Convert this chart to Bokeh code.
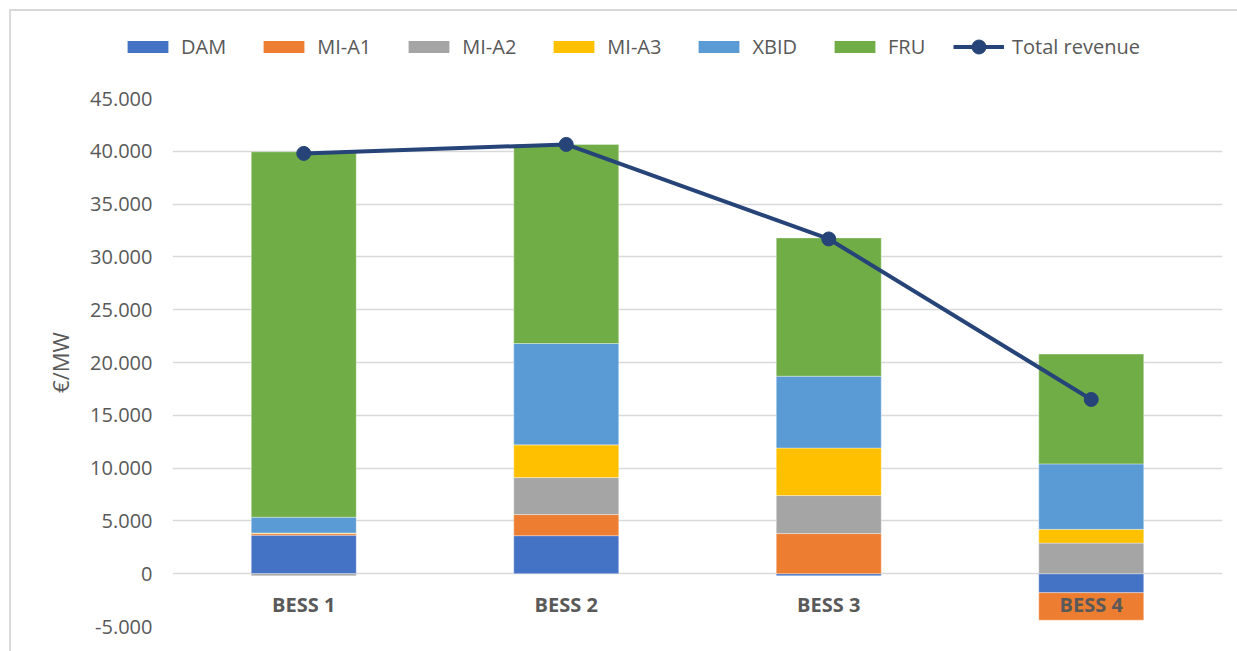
import numpy as np
from bokeh.plotting import figure
from bokeh.layouts import column
from bokeh.models import FixedTicker, CustomJSTickFormatter, ColumnDataSource, Legend, LegendItem
from bokeh.core.properties import value
from bokeh.embed import file_html
from bokeh.resources import INLINE

categories = ["BESS 1", "BESS 2", "BESS 3", "BESS 4"]
series_names = ["DAM", "MI-A1", "MI-A2", "MI-A3", "XBID", "FRU"]
dam = [3650, 3600, -200, -1800]
mi_a1 = [150, 2000, 3800, -2600]
mi_a2 = [-200, 3500, 3600, 2900]
mi_a3 = [50, 3100, 4500, 1300]
xbid = [1500, 9600, 6800, 6200]
fru = [34600, 18850, 13100, 10400]
total_revenue = [39800, 40650, 31700, 16500]
y_ticks = [-5000, 0, 5000, 10000, 15000, 20000, 25000, 30000, 35000, 40000, 45000]

colors = ["#4472C4", "#ED7D31", "#A5A5A5", "#FFC000", "#5B9BD5", "#70AD47"]
series = [dam, mi_a1, mi_a2, mi_a3, xbid, fru]
line_color = "#264478"

FONT = "Open Sans"
TXT = "#595959"
W = 1226


def style_legend(lgd, glyph_h):
    lgd.border_line_color = None
    lgd.background_fill_alpha = 0
    lgd.label_text_font = FONT
    lgd.label_text_font_size = "20px"
    lgd.label_text_color = TXT
    lgd.glyph_width = 51
    lgd.glyph_height = glyph_h
    lgd.label_standoff = 8
    lgd.spacing = 32
    lgd.padding = 0
    lgd.margin = 0


# ---------- legend strip ----------
lg = figure(width=W, height=71, x_range=(0, 1), y_range=(0, 1),
            output_backend="svg", toolbar_location=None,
            min_border_left=0, min_border_right=0, min_border_top=0, min_border_bottom=0)
lg.frame_align = False
lg.axis.visible = False
lg.grid.visible = False
lg.outline_line_color = None
nan = [np.nan]
items = []
for name, col in zip(series_names, colors):
    r = lg.vbar(x=nan, top=nan, width=0.1, fill_color=col, line_color=None)
    items.append(LegendItem(label=name, renderers=[r]))
rl = lg.line(x=nan, y=nan, line_color=line_color, line_width=4)
rs = lg.scatter(x=nan, y=nan, size=14, fill_color=line_color, line_color=line_color)

legend_bars = Legend(items=items, orientation="horizontal", location=(111, 22))
style_legend(legend_bars, 15)
lg.add_layout(legend_bars, "center")

legend_line = Legend(items=[LegendItem(label="Total revenue", renderers=[rl, rs])],
                     orientation="horizontal", location=(942, 18))
style_legend(legend_line, 35)
lg.add_layout(legend_line, "center")

# ---------- main chart ----------
p = figure(x_range=categories, y_range=(-5000, 45000), width=W, height=569,
           output_backend="svg", toolbar_location=None,
           min_border_left=161, min_border_right=15, min_border_top=16, min_border_bottom=25)
p.frame_align = False

pos = np.zeros(len(categories))
neg = np.zeros(len(categories))
for name, vals, col in zip(series_names, series, colors):
    v = np.array(vals, dtype=float)
    bottom = np.where(v >= 0, pos, neg + v)
    top = np.where(v >= 0, pos + v, neg)
    pos = np.where(v >= 0, pos + v, pos)
    neg = np.where(v < 0, neg + v, neg)
    src = ColumnDataSource(dict(x=categories, bottom=bottom, top=top))
    p.vbar(x="x", bottom="bottom", top="top", width=0.4, source=src,
           fill_color=col, line_color="white", line_width=0.6, line_alpha=0.6)

p.line(categories, total_revenue, line_color=line_color, line_width=4)
p.scatter(categories, total_revenue, size=14, fill_color=line_color, line_color=line_color)

p.text(x=categories, y=[0] * len(categories), text=categories, text_align="center",
       text_baseline="middle", y_offset=31, text_font=value(FONT), text_font_style="bold",
       text_font_size="20px", text_color=TXT)

p.xaxis.visible = False
p.xgrid.visible = False
p.ygrid.grid_line_color = "#d9d9d9"
p.ygrid.grid_line_width = 1.3
p.outline_line_color = None

ya = p.yaxis[0]
ya.ticker = FixedTicker(ticks=y_ticks)
ya.formatter = CustomJSTickFormatter(code="""
return Math.round(tick).toString().replace(/\\B(?=(\\d{3})+(?!\\d))/g, ".");
""")
ya.axis_line_color = None
ya.major_tick_line_color = None
ya.minor_tick_line_color = None
ya.major_label_standoff = 14
ya.major_label_text_font = FONT
ya.major_label_text_font_size = "20px"
ya.major_label_text_color = TXT
ya.axis_label = "€/MW"
ya.axis_label_text_font = FONT
ya.axis_label_text_font_size = "22px"
ya.axis_label_text_font_style = "normal"
ya.axis_label_text_color = TXT
ya.axis_label_standoff = 12

layout = column(lg, p, spacing=0, margin=(9, 0, 0, 9),
                styles={"border-top": "2px solid #d9d9d9", "border-left": "2px solid #d9d9d9"})
open("out.html", "w").write(file_html(layout, INLINE))
